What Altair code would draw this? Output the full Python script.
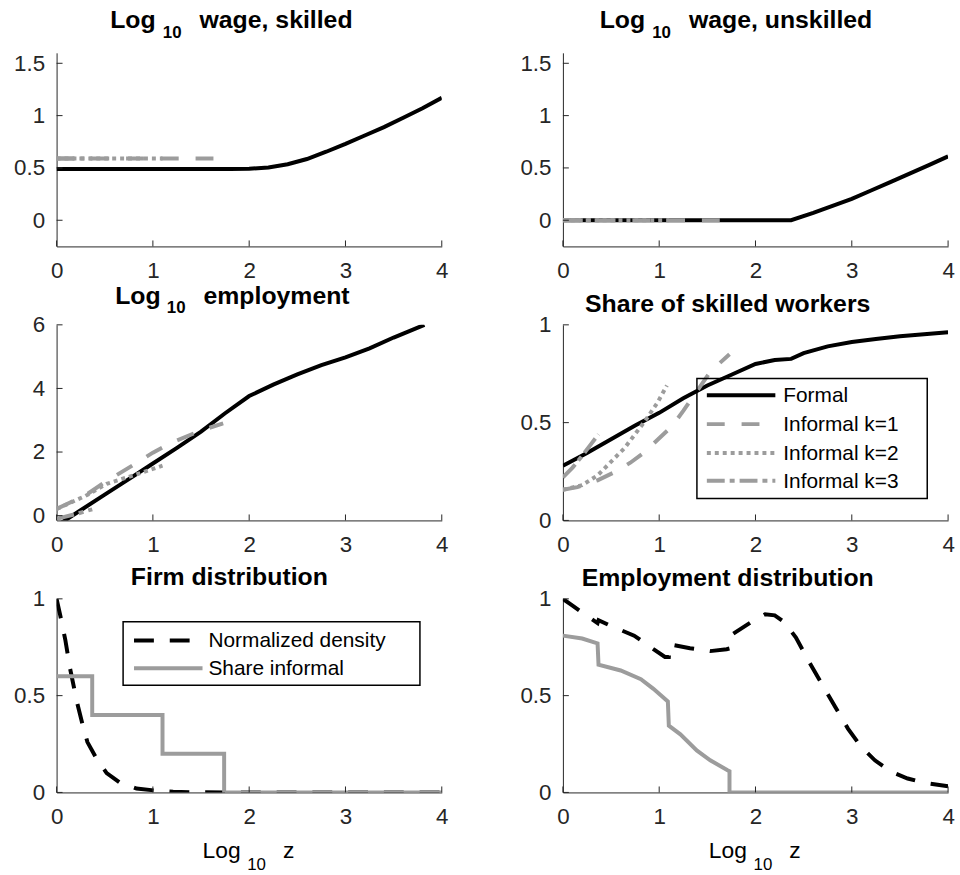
import altair as alt
import pandas as pd

FONT = "Liberation Sans"
INK = "#262626"
GREY = "#9c9c9c"
W = 388

Z_TICKS = [0, 1, 2, 3, 4]

# ---- Log10 wage, skilled
ws_z = [0, 0.5, 1.0, 1.5, 1.8, 2.0, 2.2, 2.4, 2.6, 2.8, 3.0, 3.2, 3.4, 3.6, 3.8, 4.0]
ws_formal = [0.49, 0.49, 0.49, 0.49, 0.49, 0.492, 0.505, 0.535, 0.585, 0.655, 0.73, 0.81, 0.89, 0.98, 1.07, 1.17]
ws_k1_z = [0, 1.73]
ws_k1 = [0.59, 0.59]
ws_k2_z = [0, 1.1]
ws_k2 = [0.59, 0.59]
ws_k3_z = [0, 0.37]
ws_k3 = [0.59, 0.59]

# ---- Log10 wage, unskilled
wu_z = [0, 2.37, 2.6, 2.8, 3.0, 3.2, 3.4, 3.6, 3.8, 4.0]
wu_formal = [0, 0, 0.07, 0.137, 0.205, 0.284, 0.365, 0.445, 0.527, 0.61]
wu_k1_z = [0, 1.73]
wu_k1 = [0.0, 0.0]
wu_k2_z = [0, 1.1]
wu_k2 = [0.0, 0.0]
wu_k3_z = [0, 0.37]
wu_k3 = [0.0, 0.0]

# ---- Log10 employment
em_z = [0, 0.25, 0.5, 0.75, 1.0, 1.25, 1.5, 1.75, 2.0, 2.25, 2.5, 2.75, 3.0, 3.25, 3.5, 3.82]
em_formal = [-0.32, 0.17, 0.66, 1.15, 1.64, 2.13, 2.64, 3.22, 3.76, 4.12, 4.44, 4.73, 4.98, 5.26, 5.6, 6.0]
em_k1_z = [0, 0.3, 0.5, 0.8, 1.0, 1.2, 1.5, 1.73]
em_k1 = [0.21, 0.64, 1.05, 1.6, 1.98, 2.3, 2.68, 2.9]
em_k2_z = [0, 0.3, 0.52, 0.75, 1.0, 1.1]
em_k2 = [0.21, 0.62, 1.0, 1.22, 1.47, 1.57]
em_k3_z = [0, 0.2, 0.37]
em_k3 = [-0.1, 0.05, 0.2]

# ---- Share of skilled workers
sh_z = [0, 0.25, 0.5, 0.75, 1.0, 1.25, 1.5, 1.75, 2.0, 2.2, 2.37, 2.5, 2.75, 3.0, 3.25, 3.5, 3.75, 4.0]
sh_formal = [0.28, 0.345, 0.415, 0.485, 0.55, 0.625, 0.69, 0.745, 0.80, 0.82, 0.826, 0.855, 0.89, 0.912, 0.928, 0.942, 0.952, 0.962]
sh_k1_z = [0, 0.15, 0.36, 0.55, 0.7, 0.85, 1.0, 1.13, 1.25, 1.39, 1.53, 1.73]
sh_k1 = [0.157, 0.17, 0.205, 0.25, 0.295, 0.35, 0.42, 0.48, 0.56, 0.66, 0.76, 0.85]
sh_k2_z = [0, 0.2, 0.36, 0.46, 0.64, 0.84, 0.98, 1.08]
sh_k2 = [0.157, 0.18, 0.23, 0.28, 0.37, 0.50, 0.60, 0.69]
sh_k3_z = [0, 0.1, 0.2, 0.3, 0.37]
sh_k3 = [0.22, 0.27, 0.33, 0.395, 0.44]

# ---- Firm distribution
fd_z = [0, 0.04, 0.09, 0.14, 0.21, 0.27, 0.32, 0.42, 0.52, 0.66, 0.83, 1.02, 1.21, 1.4, 1.75, 4.0]
fd_density = [1.0, 0.91, 0.79, 0.64, 0.47, 0.35, 0.26, 0.17, 0.10, 0.05, 0.02, 0.01, 0.004, 0.001, 0, 0]
fd_share_z = [0, 0.37, 1.1, 1.74, 4.0]
fd_share = [0.6, 0.4, 0.2, 0.0, 0.0]

# ---- Employment distribution
ed_z = [0, 0.1, 0.2, 0.3, 0.36, 0.37, 0.5, 0.74, 0.94, 1.06, 1.1, 1.11, 1.32, 1.53, 1.70, 1.74, 1.77,
        1.97, 2.1, 2.2, 2.3, 2.42, 2.55, 2.69, 2.83, 2.96, 3.10, 3.24, 3.41, 3.58, 3.75, 4.0]
ed_density = [1.0, 0.965, 0.93, 0.895, 0.875, 0.89, 0.86, 0.81, 0.74, 0.70, 0.70, 0.765, 0.745, 0.73, 0.74, 0.745, 0.82,
              0.885, 0.92, 0.915, 0.88, 0.80, 0.68, 0.56, 0.44, 0.33, 0.234, 0.166, 0.106, 0.072, 0.05, 0.032]
ed_share_z = [0, 0.2, 0.36, 0.37, 0.6, 0.81, 0.94, 1.09, 1.1, 1.22, 1.39, 1.53, 1.71, 1.73, 1.73, 4.0]
ed_share = [0.81, 0.795, 0.77, 0.66, 0.63, 0.585, 0.535, 0.47, 0.345, 0.30, 0.217, 0.166, 0.115, 0.11, 0.0, 0.0]

LEGEND_TOP = ["Formal", "Informal k=1", "Informal k=2", "Informal k=3"]
LEGEND_BOTTOM = ["Normalized density", "Share informal"]

STYLE = {
    "formal": dict(color="black"),
    "k1": dict(color=GREY, strokeDash=[18, 17]),
    "k2": dict(color=GREY, strokeDash=[4, 4]),
    "k3": dict(color=GREY, strokeDash=[18, 5, 5, 5]),
    "density": dict(color="black", strokeDash=[20, 16]),
    "share": dict(color=GREY),
}


def xenc():
    return alt.X("z:Q", scale=alt.Scale(domain=[0, 4], nice=False, zero=False),
                 axis=alt.Axis(values=Z_TICKS, format="~g"), title=None)


def yenc(ydom, yt):
    return alt.Y("v:Q", scale=alt.Scale(domain=ydom, nice=False, zero=False),
                 axis=alt.Axis(values=yt, format="~g"), title=None)


def line(z, v, style, ydom, yt, interp="linear"):
    df = pd.DataFrame({"z": z, "v": v, "i": list(range(len(z)))})
    return alt.Chart(df).mark_line(strokeWidth=4, clip=True, interpolate=interp,
                                   strokeCap="butt", **STYLE[style]).encode(
        x=xenc(), y=yenc(ydom, yt), order="i:Q")


def ticks(ydom, yt, h):
    # inward-pointing tick marks on both axes
    tx = alt.Chart(pd.DataFrame({"z": Z_TICKS})).mark_rule(color=INK, strokeWidth=1).encode(
        x=xenc(), y=alt.value(h), y2=alt.value(h - 6))
    ty = alt.Chart(pd.DataFrame({"v": yt})).mark_rule(color=INK, strokeWidth=1).encode(
        y=yenc(ydom, yt), x=alt.value(0), x2=alt.value(6))
    return [tx, ty]


def text(s, x, y, size, weight="normal", color="black", align="left", baseline="alphabetic"):
    return alt.Chart(pd.DataFrame({"s": [s]})).mark_text(
        align=align, baseline=baseline, font=FONT, fontSize=size, fontWeight=weight, color=color
    ).encode(text="s:N", x=alt.value(x), y=alt.value(y))


def log_title(x_log, x_sub, x_rest, y, rest, bold=True, size=25, sub=17, drop=10):
    w = "bold" if bold else "normal"
    return [text("Log", x_log, y, size, w), text("10", x_sub, y + drop, sub, w),
            text(rest, x_rest, y, size, w)]


def box(x0, y0, x1, y1):
    return alt.Chart(pd.DataFrame({"a": [0]})).mark_rect(
        fillOpacity=0, stroke="black", strokeWidth=1.5).encode(
        x=alt.value(x0), x2=alt.value(x1), y=alt.value(y0), y2=alt.value(y1))


def sample(style, x0, x1, y):
    return alt.Chart(pd.DataFrame({"a": [0]})).mark_rule(
        strokeWidth=4, strokeCap="butt", **STYLE[style]).encode(
        x=alt.value(x0), x2=alt.value(x1), y=alt.value(y))


def panel(layers, h):
    return alt.layer(*layers).properties(width=W, height=h)


H1, H2, H3 = 195, 197, 195

# Row 1
d1, t1 = [-0.25, 1.6], [0, 0.5, 1, 1.5]
p1 = panel([
    line(ws_z, ws_formal, "formal", d1, t1),
    line(ws_k1_z, ws_k1, "k1", d1, t1),
    line(ws_k2_z, ws_k2, "k2", d1, t1),
    line(ws_k3_z, ws_k3, "k3", d1, t1),
    *ticks(d1, t1, H1),
    *log_title(54, 107, 144, -25, "wage, skilled"),
], H1)

p2 = panel([
    line(wu_z, wu_formal, "formal", d1, t1),
    line(wu_k1_z, wu_k1, "k1", d1, t1),
    line(wu_k2_z, wu_k2, "k2", d1, t1),
    line(wu_k3_z, wu_k3, "k3", d1, t1),
    *ticks(d1, t1, H1),
    *log_title(37, 90, 127, -25, "wage, unskilled"),
], H1)

# Row 2
d3, t3 = [-0.15, 6], [0, 2, 4, 6]
p3 = panel([
    line(em_z, em_formal, "formal", d3, t3),
    line(em_k1_z, em_k1, "k1", d3, t3),
    line(em_k2_z, em_k2, "k2", d3, t3),
    line(em_k3_z, em_k3, "k3", d3, t3),
    *ticks(d3, t3, H2),
    *log_title(59, 111, 148, -21, "employment", drop=9),
], H2)

d4, t4 = [0, 1], [0, 0.5, 1]
leg_y = [71, 100, 129, 157]
p4 = panel([
    line(sh_z, sh_formal, "formal", d4, t4),
    line(sh_k1_z, sh_k1, "k1", d4, t4),
    line(sh_k2_z, sh_k2, "k2", d4, t4),
    line(sh_k3_z, sh_k3, "k3", d4, t4),
    *ticks(d4, t4, H2),
    text("Share of skilled workers", 166, -13, 25, "bold", align="center"),
    box(135, 54, 367, 175),
    *[sample(s, 145, 214, y) for s, y in zip(["formal", "k1", "k2", "k3"], leg_y)],
    *[text(lab, 222, y + 1, 21, baseline="middle") for lab, y in zip(LEGEND_TOP, leg_y)],
], H2)

# Row 3
d5, t5 = [0, 1], [0, 0.5, 1]
leg_b = [42, 70]
p5 = panel([
    line(fd_z, fd_density, "density", d5, t5),
    line(fd_share_z, fd_share, "share", d5, t5, interp="step-after"),
    *ticks(d5, t5, H3),
    text("Firm distribution", 174, -14, 25, "bold", align="center"),
    box(67, 23, 366, 87),
    *[sample(s, 78, 147, y) for s, y in zip(["density", "share"], leg_b)],
    *[text(lab, 153, y + 1, 21, baseline="middle") for lab, y in zip(LEGEND_BOTTOM, leg_b)],
    *log_title(147, 192, 228, H3 + 66, "z", bold=False, size=23, sub=17, drop=12),
], H3)

p6 = panel([
    line(ed_z, ed_density, "density", d5, t5),
    line(ed_share_z, ed_share, "share", d5, t5),
    *ticks(d5, t5, H3),
    text("Employment distribution", 166, -13, 25, "bold", align="center"),
    *log_title(147, 192, 228, H3 + 66, "z", bold=False, size=23, sub=17, drop=12),
], H3)

# Two-column grid; flush bounds so spacing is measured between plot areas
chart = alt.concat(
    p1, p2, p3, p4, p5, p6,
    columns=2, spacing={"row": 79, "column": 122}, bounds="flush",
).properties(
    padding={"left": 13, "top": 5, "right": 5, "bottom": 5},
    background="white",
).configure_view(stroke=None).configure_axis(
    grid=False, ticks=False, tickSize=0, domainColor=INK, domainWidth=1,
    labelFont=FONT, labelFontSize=22.5, labelColor=INK, labelPadding=12,
    labelFlush=False,
).configure_axisX(labelPadding=13)

chart.save("out.html", embed_options={"renderer": "svg", "actions": False})
